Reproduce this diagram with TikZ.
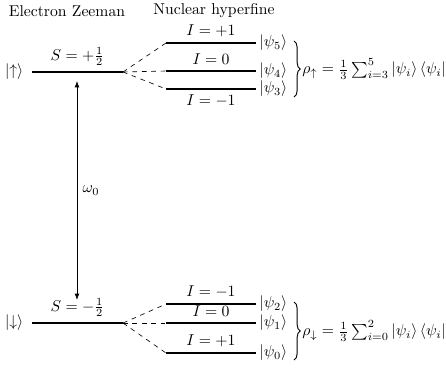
\documentclass[tikz,border=0pt]{standalone}
\usepackage{amsmath}
\usetikzlibrary{positioning,arrows.meta,decorations.pathreplacing}

\begin{document}
\begin{tikzpicture}[x=0.0224cm,y=-0.0224cm,
    level/.style={very thick},
    split/.style={dashed},
    transition/.style={{Latex[length=4pt]}-{Latex[length=4pt]}},
    ket/.style={anchor=west,inner sep=2pt},
    grouping/.style={semithick,decorate,decoration={brace,amplitude=4pt}}
  ]
  \useasboundingbox (0,0) rectangle (446,371);

  % headings
  \node (hdE) at (67,11) {Electron Zeeman};
  \node (hdN) at (214,11) {Nuclear hyperfine};

  % electron Zeeman levels
  \coordinate (eu-l) at (32,72);
  \coordinate (eu-r) at (123,72);
  \coordinate (ed-l) at (32,323);
  \coordinate (ed-r) at (123,323);
  \draw[level] (eu-l) -- node[above] (Su) {$S=+\frac{1}{2}$} (eu-r);
  \draw[level] (ed-l) -- node[above] (Sd) {$S=-\frac{1}{2}$} (ed-r);
  \node[left=2pt] (up) at (eu-l) {$|{\uparrow}\rangle$};
  \node[left=2pt] (dn) at (ed-l) {$|{\downarrow}\rangle$};

  % nuclear hyperfine levels
  \foreach \n/\y in {5/43,4/71,3/89,2/304,1/323,0/353} {
    \coordinate (h\n-l) at (166,\y);
    \coordinate (h\n-r) at (256,\y);
    \node[ket] (psi\n) at (h\n-r) {$|\psi_\n\rangle$};
  }
  \draw[level] (h5-l) -- node[above] {$I=+1$} (h5-r);
  \draw[level] (h4-l) -- node[above] {$I=0$} (h4-r);
  \draw[level] (h3-l) -- node[below] {$I=-1$} (h3-r);
  \draw[level] (h2-l) -- node[above] {$I=-1$} (h2-r);
  \draw[level] (h1-l) -- node[above] {$I=0$} (h1-r);
  \draw[level] (h0-l) -- node[above] {$I=+1$} (h0-r);

  % splitting
  \foreach \n in {5,4,3} \draw[split] (eu-r) -- (h\n-l);
  \foreach \n in {2,1,0} \draw[split] (ed-r) -- (h\n-l);

  % transition
  \coordinate (au) at (77,81);
  \coordinate (ad) at (77,300);
  \draw[transition] (ad) -- node[right] (om) {$\omega_0$} (au);

  % density matrices
  \draw[grouping] (294,41) -- node[right=4pt,inner sep=1pt] (rhoU)
    {$\rho_\uparrow=\frac{1}{3}\sum_{i=3}^{5}|\psi_i\rangle\,\langle\psi_i|$} (294,97);
  \draw[grouping] (294,302) -- node[right=4pt,inner sep=1pt] (rhoD)
    {$\rho_\downarrow=\frac{1}{3}\sum_{i=0}^{2}|\psi_i\rangle\,\langle\psi_i|$} (294,360);
\end{tikzpicture}
\end{document}
